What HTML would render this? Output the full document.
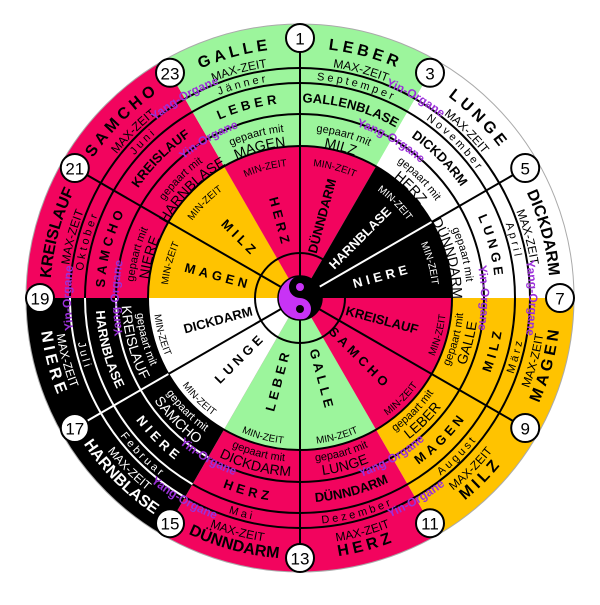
<!DOCTYPE html>
<html><head><meta charset="utf-8"><style>
html,body{margin:0;padding:0;background:#fff;}
svg{display:block;font-family:"Liberation Sans",Arial,sans-serif;}
.nm{font-size:16px;font-weight:bold;}
.mx{font-size:12px;}
.mo{font-size:11px;letter-spacing:3px;}
.og{font-size:13px;font-weight:bold;}
.gm{font-size:11px;}
.gn{font-size:14px;}
.mz{font-size:10px;}
.yy{font-size:12px;fill:#9B30D9;font-weight:bold;}
.in{font-size:13px;font-weight:bold;}
.w{fill:#fff;}
.sp{letter-spacing:4px;}
</style></head><body>
<svg width="600" height="605" viewBox="0 0 600 605" xmlns="http://www.w3.org/2000/svg">
<defs>
<path id="w" d="M300,298 L300,18 A280,280 0 0 1 440,55.5 Z"/>
<clipPath id="co"><circle cx="300" cy="298" r="274"/></clipPath>
<clipPath id="ci"><circle cx="300" cy="298" r="152"/></clipPath>
<path id="tN" d="M139.3,106.5 A250,250 0 0 1 460.7,106.5"/>
<path id="bN" d="M132.2,497.9 A261,261 0 0 0 467.8,497.9"/>
<path id="tX" d="M150.2,119.5 A233,233 0 0 1 449.8,119.5"/>
<path id="bX" d="M141.9,486.5 A246,246 0 0 0 458.1,486.5"/>
<path id="tM" d="M159.5,130.6 A218.5,218.5 0 0 1 440.5,130.6"/>
<path id="bM" d="M154.4,471.5 A226.5,226.5 0 0 0 445.6,471.5"/>
<path id="tO" d="M174.3,148.2 A195.5,195.5 0 0 1 425.7,148.2"/>
<path id="bO" d="M168.5,454.6 A204.5,204.5 0 0 0 431.5,454.6"/>
<path id="tG" d="M192.7,170.1 A167,167 0 0 1 407.3,170.1"/>
<path id="bG" d="M194.6,423.6 A164,164 0 0 0 405.4,423.6"/>
<path id="tP" d="M202,181.2 A152.5,152.5 0 0 1 398,181.2"/>
<path id="bP" d="M185.3,434.7 A178.5,178.5 0 0 0 414.7,434.7"/>
<path id="tZ" d="M214.8,196.5 A132.5,132.5 0 0 1 385.2,196.5"/>
<path id="bZ" d="M205.8,410.2 A146.5,146.5 0 0 0 394.2,410.2"/>
<path id="tYo" d="M152.8,122.6 A229,229 0 0 1 447.2,122.6"/>
<path id="bYo" d="M147.7,479.5 A237,237 0 0 0 452.3,479.5"/>
<path id="tYi" d="M183.7,159.4 A181,181 0 0 1 416.3,159.4"/>
<path id="bYi" d="M178.5,442.8 A189,189 0 0 0 421.5,442.8"/>
</defs>

<g clip-path="url(#co)">
<use href="#w" fill="#9CF59C"/>
<use href="#w" fill="#fff" transform="rotate(30 300 298)"/>
<use href="#w" fill="#fff" transform="rotate(60 300 298)"/>
<use href="#w" fill="#FFC300" transform="rotate(90 300 298)"/>
<use href="#w" fill="#FFC300" transform="rotate(120 300 298)"/>
<use href="#w" fill="#F2045E" transform="rotate(150 300 298)"/>
<use href="#w" fill="#F2045E" transform="rotate(180 300 298)"/>
<use href="#w" fill="#000" transform="rotate(210 300 298)"/>
<use href="#w" fill="#000" transform="rotate(240 300 298)"/>
<use href="#w" fill="#F2045E" transform="rotate(270 300 298)"/>
<use href="#w" fill="#F2045E" transform="rotate(300 300 298)"/>
<use href="#w" fill="#9CF59C" transform="rotate(330 300 298)"/>
</g>
<g clip-path="url(#ci)">
<use href="#w" fill="#F2045E"/>
<use href="#w" fill="#000" transform="rotate(30 300 298)"/>
<use href="#w" fill="#000" transform="rotate(60 300 298)"/>
<use href="#w" fill="#F2045E" transform="rotate(90 300 298)"/>
<use href="#w" fill="#F2045E" transform="rotate(120 300 298)"/>
<use href="#w" fill="#9CF59C" transform="rotate(150 300 298)"/>
<use href="#w" fill="#9CF59C" transform="rotate(180 300 298)"/>
<use href="#w" fill="#fff" transform="rotate(210 300 298)"/>
<use href="#w" fill="#fff" transform="rotate(240 300 298)"/>
<use href="#w" fill="#FFC300" transform="rotate(270 300 298)"/>
<use href="#w" fill="#FFC300" transform="rotate(300 300 298)"/>
<use href="#w" fill="#F2045E" transform="rotate(330 300 298)"/>
</g>
<circle cx="300" cy="298" r="274" fill="none" stroke="#aaa" stroke-width="1"/>

<g fill="none" stroke="#000" stroke-width="2">
<circle cx="300" cy="298" r="230"/>
<circle cx="300" cy="298" r="215"/>
<circle cx="300" cy="298" r="184"/>
<circle cx="300" cy="298" r="152"/>
<circle cx="300" cy="298" r="45"/>
</g>
<g fill="none" stroke="#fff" stroke-width="2">
<path d="M185,497.2 A230,230 0 0 1 70,298"/>
<path d="M192.5,484.2 A215,215 0 0 1 85,298"/>
<path d="M208,457.3 A184,184 0 0 1 116,298"/>
</g>
<g stroke-width="2">
<line x1="300" y1="298" x2="300" y2="38" stroke="#000"/>
<line x1="300" y1="298" x2="431.6" y2="222" stroke="#fff"/>
<line x1="431.6" y1="222" x2="525.2" y2="168" stroke="#000"/>
<line x1="300" y1="298" x2="525.2" y2="428" stroke="#000"/>
<line x1="300" y1="298" x2="300" y2="558" stroke="#000"/>
<line x1="300" y1="298" x2="168.4" y2="374" stroke="#000"/>
<line x1="168.4" y1="374" x2="74.8" y2="428" stroke="#fff"/>
<line x1="300" y1="298" x2="74.8" y2="168" stroke="#000"/>
</g>

<g text-anchor="middle">
<g transform="rotate(15 300 298)">
<text class="nm sp"><textPath href="#tN" startOffset="50%">LEBER</textPath></text>
<text class="mx"><textPath href="#tX" startOffset="50%">MAX-ZEIT</textPath></text>
<text class="mo"><textPath href="#tM" startOffset="50%">Septemper</textPath></text>
<text class="og"><textPath href="#tO" startOffset="50%">GALLENBLASE</textPath></text>
<text class="gm"><textPath href="#tG" startOffset="50%">gepaart mit</textPath></text>
<text class="gn"><textPath href="#tP" startOffset="50%">MILZ</textPath></text>
</g>
<g transform="rotate(45 300 298)">
<text class="nm sp"><textPath href="#tN" startOffset="50%">LUNGE</textPath></text>
<text class="mx"><textPath href="#tX" startOffset="50%">MAX-ZEIT</textPath></text>
<text class="mo"><textPath href="#tM" startOffset="50%">November</textPath></text>
<text class="og"><textPath href="#tO" startOffset="50%">DICKDARM</textPath></text>
<text class="gm"><textPath href="#tG" startOffset="50%">gepaart mit</textPath></text>
<text class="gn"><textPath href="#tP" startOffset="50%">HERZ</textPath></text>
</g>
<g transform="rotate(75 300 298)">
<text class="nm"><textPath href="#tN" startOffset="50%">DICKDARM</textPath></text>
<text class="mx"><textPath href="#tX" startOffset="50%">MAX-ZEIT</textPath></text>
<text class="mo"><textPath href="#tM" startOffset="50%">April</textPath></text>
<text class="og sp"><textPath href="#tO" startOffset="50%">LUNGE</textPath></text>
<text class="gm"><textPath href="#tG" startOffset="50%">gepaart mit</textPath></text>
<text class="gn"><textPath href="#tP" startOffset="50%">DÜNNDARM</textPath></text>
</g>
<g transform="rotate(-75 300 298)">
<text class="nm sp"><textPath href="#bN" startOffset="50%">MAGEN</textPath></text>
<text class="mx"><textPath href="#bX" startOffset="50%">MAX-ZEIT</textPath></text>
<text class="mo"><textPath href="#bM" startOffset="50%">März</textPath></text>
<text class="og sp"><textPath href="#bO" startOffset="50%">MILZ</textPath></text>
<text class="gm"><textPath href="#bG" startOffset="50%">gepaart mit</textPath></text>
<text class="gn"><textPath href="#bP" startOffset="50%">GALLE</textPath></text>
</g>
<g transform="rotate(-45 300 298)">
<text class="nm sp"><textPath href="#bN" startOffset="50%">MILZ</textPath></text>
<text class="mx"><textPath href="#bX" startOffset="50%">MAX-ZEIT</textPath></text>
<text class="mo"><textPath href="#bM" startOffset="50%">August</textPath></text>
<text class="og sp"><textPath href="#bO" startOffset="50%">MAGEN</textPath></text>
<text class="gm"><textPath href="#bG" startOffset="50%">gepaart mit</textPath></text>
<text class="gn"><textPath href="#bP" startOffset="50%">LEBER</textPath></text>
</g>
<g transform="rotate(-15 300 298)">
<text class="nm sp"><textPath href="#bN" startOffset="50%">HERZ</textPath></text>
<text class="mx"><textPath href="#bX" startOffset="50%">MAX-ZEIT</textPath></text>
<text class="mo"><textPath href="#bM" startOffset="50%">Dezember</textPath></text>
<text class="og"><textPath href="#bO" startOffset="50%">DÜNNDARM</textPath></text>
<text class="gm"><textPath href="#bG" startOffset="50%">gepaart mit</textPath></text>
<text class="gn"><textPath href="#bP" startOffset="50%">LUNGE</textPath></text>
</g>
<g transform="rotate(15 300 298)">
<text class="nm"><textPath href="#bN" startOffset="50%">DÜNNDARM</textPath></text>
<text class="mx"><textPath href="#bX" startOffset="50%">MAX-ZEIT</textPath></text>
<text class="mo"><textPath href="#bM" startOffset="50%">Mai</textPath></text>
<text class="og sp"><textPath href="#bO" startOffset="50%">HERZ</textPath></text>
<text class="gm"><textPath href="#bG" startOffset="50%">gepaart mit</textPath></text>
<text class="gn"><textPath href="#bP" startOffset="50%">DICKDARM</textPath></text>
</g>
<g transform="rotate(45 300 298)">
<text class="nm w"><textPath href="#bN" startOffset="50%">HARNBLASE</textPath></text>
<text class="mx w"><textPath href="#bX" startOffset="50%">MAX-ZEIT</textPath></text>
<text class="mo w"><textPath href="#bM" startOffset="50%">Februar</textPath></text>
<text class="og sp w"><textPath href="#bO" startOffset="50%">NIERE</textPath></text>
<text class="gm w"><textPath href="#bG" startOffset="50%">gepaart mit</textPath></text>
<text class="gn w"><textPath href="#bP" startOffset="50%">SAMCHO</textPath></text>
</g>
<g transform="rotate(75 300 298)">
<text class="nm sp w"><textPath href="#bN" startOffset="50%">NIERE</textPath></text>
<text class="mx w"><textPath href="#bX" startOffset="50%">MAX-ZEIT</textPath></text>
<text class="mo w"><textPath href="#bM" startOffset="50%">Juli</textPath></text>
<text class="og w"><textPath href="#bO" startOffset="50%">HARNBLASE</textPath></text>
<text class="gm w"><textPath href="#bG" startOffset="50%">gepaart mit</textPath></text>
<text class="gn w"><textPath href="#bP" startOffset="50%">KREISLAUF</textPath></text>
</g>
<g transform="rotate(285 300 298)">
<text class="nm"><textPath href="#tN" startOffset="50%">KREISLAUF</textPath></text>
<text class="mx"><textPath href="#tX" startOffset="50%">MAX-ZEIT</textPath></text>
<text class="mo"><textPath href="#tM" startOffset="50%">Oktober</textPath></text>
<text class="og sp"><textPath href="#tO" startOffset="50%">SAMCHO</textPath></text>
<text class="gm"><textPath href="#tG" startOffset="50%">gepaart mit</textPath></text>
<text class="gn"><textPath href="#tP" startOffset="50%">NIERE</textPath></text>
</g>
<g transform="rotate(315 300 298)">
<text class="nm sp"><textPath href="#tN" startOffset="50%">SAMCHO</textPath></text>
<text class="mx"><textPath href="#tX" startOffset="50%">MAX-ZEIT</textPath></text>
<text class="mo"><textPath href="#tM" startOffset="50%">Juni</textPath></text>
<text class="og"><textPath href="#tO" startOffset="50%">KREISLAUF</textPath></text>
<text class="gm"><textPath href="#tG" startOffset="50%">gepaart mit</textPath></text>
<text class="gn"><textPath href="#tP" startOffset="50%">HARNBLASE</textPath></text>
</g>
<g transform="rotate(345 300 298)">
<text class="nm sp"><textPath href="#tN" startOffset="50%">GALLE</textPath></text>
<text class="mx"><textPath href="#tX" startOffset="50%">MAX-ZEIT</textPath></text>
<text class="mo"><textPath href="#tM" startOffset="50%">Jänner</textPath></text>
<text class="og sp"><textPath href="#tO" startOffset="50%">LEBER</textPath></text>
<text class="gm"><textPath href="#tG" startOffset="50%">gepaart mit</textPath></text>
<text class="gn"><textPath href="#tP" startOffset="50%">MAGEN</textPath></text>
</g>

<g class="mz">
<text class="mz" transform="rotate(15 300 298)"><textPath href="#tZ" startOffset="50%">MIN-ZEIT</textPath></text>
<text class="mz w" transform="rotate(45 300 298)"><textPath href="#tZ" startOffset="50%">MIN-ZEIT</textPath></text>
<text class="mz w" transform="rotate(75 300 298)"><textPath href="#tZ" startOffset="50%">MIN-ZEIT</textPath></text>
<text class="mz" transform="rotate(-75 300 298)"><textPath href="#bZ" startOffset="50%">MIN-ZEIT</textPath></text>
<text class="mz" transform="rotate(-45 300 298)"><textPath href="#bZ" startOffset="50%">MIN-ZEIT</textPath></text>
<text class="mz" transform="rotate(-15 300 298)"><textPath href="#bZ" startOffset="50%">MIN-ZEIT</textPath></text>
<text class="mz" transform="rotate(15 300 298)"><textPath href="#bZ" startOffset="50%">MIN-ZEIT</textPath></text>
<text class="mz" transform="rotate(45 300 298)"><textPath href="#bZ" startOffset="50%">MIN-ZEIT</textPath></text>
<text class="mz" transform="rotate(75 300 298)"><textPath href="#bZ" startOffset="50%">MIN-ZEIT</textPath></text>
<text class="mz" transform="rotate(285 300 298)"><textPath href="#tZ" startOffset="50%">MIN-ZEIT</textPath></text>
<text class="mz" transform="rotate(315 300 298)"><textPath href="#tZ" startOffset="50%">MIN-ZEIT</textPath></text>
<text class="mz" transform="rotate(345 300 298)"><textPath href="#tZ" startOffset="50%">MIN-ZEIT</textPath></text>
</g>

<g>
<text class="yy" transform="rotate(30 300 298)"><textPath href="#tYo" startOffset="50%">Yin-Organe</textPath></text>
<text class="yy" transform="rotate(30 300 298)"><textPath href="#tYi" startOffset="50%">Yang-Organe</textPath></text>
<text class="yy" transform="rotate(90 300 298)"><textPath href="#tYo" startOffset="50%">Yang-Organe</textPath></text>
<text class="yy" transform="rotate(90 300 298)"><textPath href="#tYi" startOffset="50%">Yin-Organe</textPath></text>
<text class="yy" transform="rotate(-30 300 298)"><textPath href="#bYo" startOffset="50%">Yin-Organe</textPath></text>
<text class="yy" transform="rotate(-30 300 298)"><textPath href="#bYi" startOffset="50%">Yang-Organe</textPath></text>
<text class="yy" transform="rotate(30 300 298)"><textPath href="#bYo" startOffset="50%">Yang-Organe</textPath></text>
<text class="yy" transform="rotate(30 300 298)"><textPath href="#bYi" startOffset="50%">Yin-Organe</textPath></text>
<text class="yy" transform="rotate(270 300 298)"><textPath href="#tYo" startOffset="50%">Yin-Organe</textPath></text>
<text class="yy" transform="rotate(270 300 298)"><textPath href="#tYi" startOffset="50%">Yang-Organe</textPath></text>
<text class="yy" transform="rotate(330 300 298)"><textPath href="#tYo" startOffset="50%">Yang-Organe</textPath></text>
<text class="yy" transform="rotate(330 300 298)"><textPath href="#tYi" startOffset="50%">Yin-Organe</textPath></text>
</g>

<g class="in" dominant-baseline="central">
<text class="in" x="322" y="216" transform="rotate(-75 322 216)">DÜNNDARM</text>
<text class="in w" x="360" y="238" transform="rotate(-45 360 238)">HARNBLASE</text>
<text class="in w sp" x="382" y="276" transform="rotate(-15 382 276)">NIERE</text>
<text class="in" x="382" y="320" transform="rotate(15 382 320)">KREISLAUF</text>
<text class="in sp" x="360" y="358" transform="rotate(45 360 358)">SAMCHO</text>
<text class="in sp" x="322" y="380" transform="rotate(75 322 380)">GALLE</text>
<text class="in sp" x="278" y="380" transform="rotate(-75 278 380)">LEBER</text>
<text class="in sp" x="240" y="358" transform="rotate(-45 240 358)">LUNGE</text>
<text class="in" x="218" y="320" transform="rotate(-15 218 320)">DICKDARM</text>
<text class="in sp" x="218" y="276" transform="rotate(15 218 276)">MAGEN</text>
<text class="in sp" x="240" y="238" transform="rotate(45 240 238)">MILZ</text>
<text class="in sp" x="280" y="222" transform="rotate(75 280 222)">HERZ</text>
</g>
</g>

<circle cx="300" cy="298" r="22" fill="#C833F5"/>
<path d="M300,276 A22,22 0 0 1 300,320 A11,11 0 0 0 300,298 A11,11 0 0 1 300,276 Z" fill="#000"/>
<circle cx="300" cy="287" r="4" fill="#C833F5"/>
<circle cx="300" cy="309" r="4" fill="#000"/>
<circle cx="300" cy="298" r="22" fill="none" stroke="#000" stroke-width="1.5"/>

<g fill="#fff" stroke="#000" stroke-width="2">
<circle cx="300" cy="38" r="14"/><circle cx="430" cy="72.8" r="14"/>
<circle cx="525.2" cy="168" r="14"/><circle cx="560" cy="298" r="14"/>
<circle cx="525.2" cy="428" r="14"/><circle cx="430" cy="523.2" r="14"/>
<circle cx="300" cy="558" r="14"/><circle cx="170" cy="523.2" r="14"/>
<circle cx="74.8" cy="428" r="14"/><circle cx="40" cy="298" r="14"/>
<circle cx="74.8" cy="168" r="14"/><circle cx="170" cy="72.8" r="14"/>
</g>
<g font-size="17" text-anchor="middle" dominant-baseline="central" fill="#000">
<text x="300" y="39">1</text><text x="430" y="73.8">3</text>
<text x="525.2" y="169">5</text><text x="560" y="299">7</text>
<text x="525.2" y="429">9</text><text x="430" y="524.2">11</text>
<text x="300" y="559">13</text><text x="170" y="524.2">15</text>
<text x="74.8" y="429">17</text><text x="40" y="299">19</text>
<text x="74.8" y="169">21</text><text x="170" y="73.8">23</text>
</g>
</svg>
</body></html>
